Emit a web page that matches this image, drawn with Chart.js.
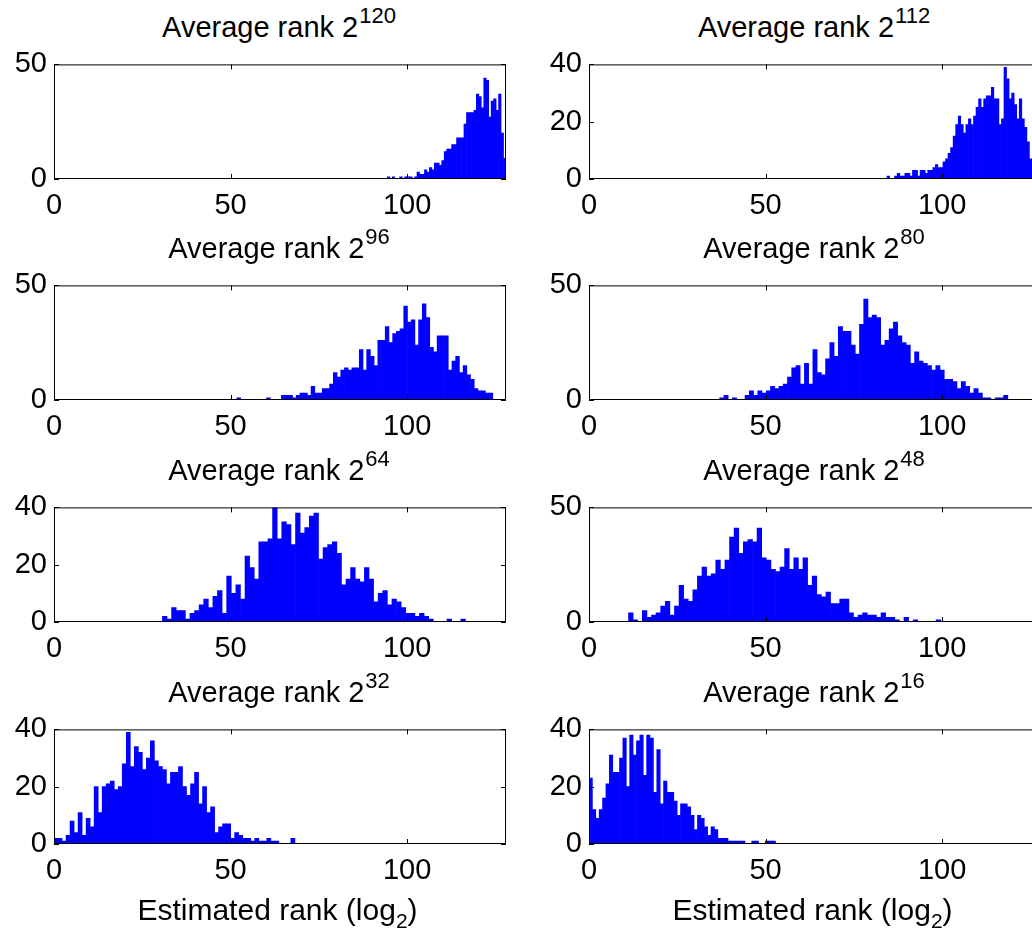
<!DOCTYPE html>
<html>
<head>
<meta charset="utf-8">
<title>Average rank histograms</title>
<script src="https://cdn.jsdelivr.net/npm/chart.js@4.4.1/dist/chart.umd.min.js"></script>
<style>
  body { margin: 0; width: 1032px; height: 931px; overflow: hidden; background: #fff; position: relative;
         font-family: "Liberation Sans", Arial, Helvetica, sans-serif; color: #000; }
  canvas.panel { position: absolute; }
  .title, .xlabel { position: absolute; white-space: nowrap; transform: translateX(-50%); }
  .title { font-size: 29px; line-height: 29px; }
  .title sup { font-size: 22px; vertical-align: baseline; position: relative; top: -14px; margin-left: 1px; }
  .xlabel { font-size: 30px; line-height: 30px; }
  .xlabel sub { font-size: 21px; vertical-align: baseline; position: relative; top: 8px; }
</style>
</head>
<body>
<script>
  // exponent of the average rank, panels row by row (left, right)
  var exponents = [120, 112, 96, 80, 64, 48, 32, 16];
  var xTicks = [0, 50, 100];
  var yMax = [50, 40, 50, 50, 40, 50, 40, 40];
  var yTicks = [[0, 50], [0, 20, 40], [0, 50], [0, 50], [0, 20, 40], [0, 50], [0, 20, 40], [0, 20, 40]];

  // histogram bins: first edge and width per panel
  var binStart = [94.4, 84.4, 51.8, 37, 30.7, 11.2, 0, 0];
  var binWidth = [0.7, 0.72, 1.05, 1.2, 1.3, 1.3, 1.137, 0.96];

  // counts per bin
  var counts120 = [1,0,1,0,0,1,0,1,1,1,0,1,3,2,2,4,3,5,4,7,7,6,8,12,13,13,15,15,18,18,18,24,29,29,29,30,37,36,31,44,43,27,34,35,30,37,20,9];
  var counts112 = [1,0,0,1,2,1,1,2,2,1,3,3,1,3,3,2,3,3,4,5,4,4,6,7,9,11,15,19,22,19,16,19,21,19,22,25,28,25,28,29,29,32,28,28,19,21,39,35,28,30,26,21,28,21,18,13,7,4,2];
  var counts96 = [1,0,0,0,0,0,0,0,1,0,0,0,2,2,2,1,2,3,3,2,6,3,3,5,5,7,12,10,13,14,13,14,14,22,13,22,19,15,26,26,32,25,29,30,31,41,34,35,24,35,42,36,23,21,28,28,28,13,17,19,12,15,11,9,5,4,4,3,3];
  var counts80 = [1,2,0,1,0,0,2,4,2,4,3,4,6,5,6,7,10,14,15,7,16,7,22,12,11,18,25,19,32,30,30,24,20,33,44,36,37,36,24,26,31,34,28,25,24,16,21,17,16,15,13,15,13,9,9,8,5,8,6,3,5,3,1,1,0,1,1,2];
  var counts64 = [2,1,5,4,4,1,3,4,6,8,5,9,11,3,16,10,13,8,23,19,15,28,28,29,40,29,35,34,27,38,31,33,37,38,22,26,27,28,24,13,15,19,15,14,19,15,7,10,11,6,8,7,5,3,3,2,3,2,1,0,0,0,1,0,0,1];
  var counts48 = [4,1,0,5,2,3,4,7,9,3,7,16,10,9,14,20,24,20,21,27,23,27,37,41,30,35,36,35,41,28,27,23,22,24,32,23,28,23,28,16,20,12,11,13,8,8,10,10,4,2,3,4,3,3,2,4,2,2,1,0,2,0,1,0,0,0,0,1];
  var counts32 = [2,2,1,3,8,4,11,3,9,6,20,11,20,21,22,19,20,28,39,27,34,32,26,30,36,29,27,26,21,25,25,27,20,17,21,25,14,20,11,13,4,6,7,7,2,4,3,2,2,1,2,1,1,2,1,1,0,0,0,2];
  var counts16 = [23,12,9,12,16,21,31,25,25,30,37,20,38,31,36,38,24,38,37,18,33,14,22,18,18,15,10,14,14,13,10,5,10,9,6,3,6,5,2,2,2,1,1,1,1,1,0,0,1,1,0,0,1,1,1];
  var allCounts = [counts120, counts112, counts96, counts80, counts64, counts48, counts32, counts16];

  var fontFamily = '"Liberation Sans", Arial, Helvetica, sans-serif';
  var colLeft = [54, 589];
  var rowTop = [58, 279, 501, 723];
  var plotW = 452, plotH = 121;
  var yAxisW = 54, padTop = 18, padRight = 14, xAxisH = 50;

  // matlab style box with inward ticks on all four sides
  var boxPlugin = {
    id: 'box',
    afterDatasetsDraw: function(chart) {
      var ctx = chart.ctx, a = chart.chartArea;
      var xs = chart.scales.x, ys = chart.scales.y;
      ctx.save();
      ctx.strokeStyle = '#000';
      ctx.lineWidth = 1;
      ctx.beginPath();
      ctx.rect(a.left + 0.5, a.top + 0.5, a.right - a.left - 1, a.bottom - a.top - 1);
      xs.ticks.forEach(function(t) {
        var px = Math.round(xs.getPixelForValue(t.value)) + 0.5;
        ctx.moveTo(px, a.bottom); ctx.lineTo(px, a.bottom - 5);
        ctx.moveTo(px, a.top); ctx.lineTo(px, a.top + 5);
      });
      ys.ticks.forEach(function(t) {
        var py = Math.round(ys.getPixelForValue(t.value)) + 0.5;
        ctx.moveTo(a.left, py); ctx.lineTo(a.left + 5, py);
        ctx.moveTo(a.right, py); ctx.lineTo(a.right - 5, py);
      });
      ctx.stroke();
      ctx.restore();
    }
  };

  exponents.forEach(function(e, k) {
    var col = k % 2, row = Math.floor(k / 2);

    var title = document.createElement('div');
    title.className = 'title';
    title.innerHTML = 'Average rank 2<sup>' + e + '</sup>';
    title.style.left = (colLeft[col] + plotW / 2 - 1) + 'px';
    title.style.top = (rowTop[row] - 45.5) + 'px';
    document.body.appendChild(title);

    var canvas = document.createElement('canvas');
    canvas.className = 'panel';
    canvas.width = yAxisW + plotW + padRight;
    canvas.height = padTop + plotH + xAxisH;
    canvas.style.left = (colLeft[col] - yAxisW) + 'px';
    canvas.style.top = (rowTop[row] - padTop) + 'px';
    document.body.appendChild(canvas);

    var counts = allCounts[k];
    var points = counts.map(function(c, i) {
      return { x: binStart[k] + (i + 0.5) * binWidth[k], y: c };
    });
    var ticksY = yTicks[k];

    new Chart(canvas, {
      type: 'bar',
      data: {
        datasets: [{
          data: points,
          backgroundColor: '#0000ff',
          borderWidth: 0,
          categoryPercentage: 1,
          barPercentage: 1
        }]
      },
      options: {
        responsive: false,
        animation: false,
        devicePixelRatio: 1,
        layout: { padding: { top: padTop, right: padRight, left: 0, bottom: 0 } },
        plugins: { legend: { display: false }, tooltip: { enabled: false } },
        scales: {
          x: {
            type: 'linear', min: 0, max: 128, offset: false,
            grid: { display: false, drawTicks: false, offset: false },
            border: { display: false },
            afterBuildTicks: function(s) { s.ticks = xTicks.map(function(v) { return { value: v }; }); },
            afterFit: function(s) { s.height = xAxisH; },
            ticks: { color: '#000', font: { family: fontFamily, size: 29 }, padding: 10, maxRotation: 0, autoSkip: false }
          },
          y: {
            min: 0, max: yMax[k],
            grid: { display: false, drawTicks: false },
            border: { display: false },
            afterBuildTicks: function(s) { s.ticks = ticksY.map(function(v) { return { value: v }; }); },
            afterFit: function(s) { s.width = yAxisW; },
            ticks: { color: '#000', font: { family: fontFamily, size: 29 }, padding: 7 }
          }
        }
      },
      plugins: [boxPlugin]
    });

    if (row === 3) {
      var xl = document.createElement('div');
      xl.className = 'xlabel';
      xl.innerHTML = 'Estimated rank (log<sub>2</sub>)';
      xl.style.left = (colLeft[col] + 223.5) + 'px';
      xl.style.top = '894.6px';
      document.body.appendChild(xl);
    }
  });
</script>
</body>
</html>
